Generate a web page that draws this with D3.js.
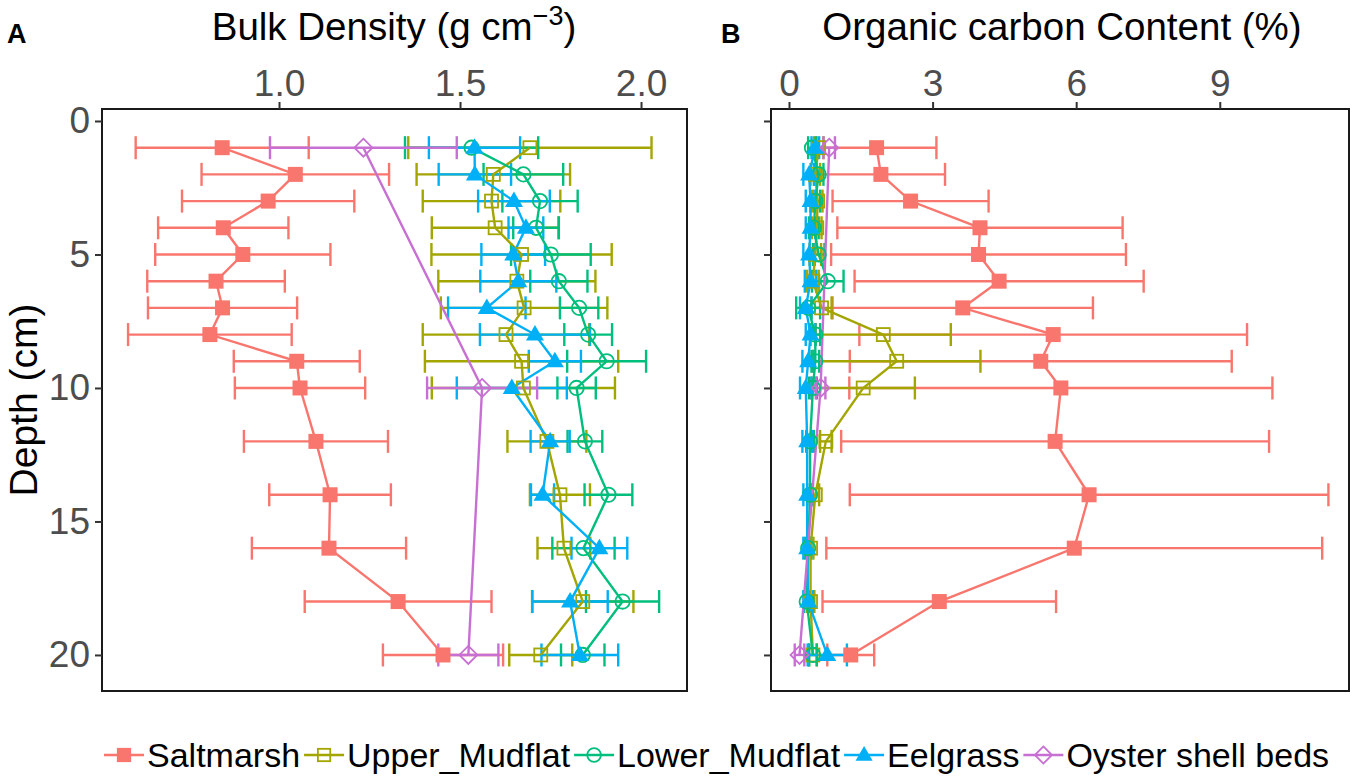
<!DOCTYPE html>
<html><head><meta charset="utf-8">
<script src="https://cdn.jsdelivr.net/npm/d3@7/dist/d3.min.js"></script>
<style>body{margin:0;background:#fff}svg{display:block;font-family:"Liberation Sans",Arial,sans-serif}</style>
</head><body><svg id="c" width="1356" height="783"></svg>
<script>
const depths = [1,2,3,4,5,6,7,8,9,10,12,14,16,18,20];
const oysterDepths = [1,10,20];
const seriesNames = ["Saltmarsh","Upper_Mudflat","Lower_Mudflat","Eelgrass","Oyster shell beds"];
const colors = ["#F8766D","#A3A500","#00BF7D","#00B0F6","#C86FD3"];
const shapes = ["squareFill","squareOpen","circleOpen","triangleFill","diamondOpen"];

// Bulk density (g cm-3): mean and sd per depth
const bdSaltmarsh   = [0.843,1.045,0.970,0.846,0.900,0.826,0.844,0.809,1.049,1.058,1.102,1.141,1.138,1.329,1.453];
const bdSaltmarshSd = [0.239,0.259,0.238,0.180,0.242,0.190,0.206,0.226,0.174,0.180,0.199,0.168,0.213,0.258,0.166];
const bdUpper   = [1.693,1.592,1.587,1.597,1.670,1.657,1.677,1.627,1.670,1.675,1.740,1.776,1.787,1.839,1.723];
const bdUpperSd = [0.336,0.212,0.190,0.175,0.249,0.217,0.230,0.230,0.267,0.253,0.109,0.083,0.073,0.140,0.087];
const bdLower   = [1.532,1.675,1.721,1.710,1.751,1.773,1.829,1.854,1.905,1.822,1.845,1.910,1.841,1.949,1.839];
const bdLowerSd = [0.184,0.110,0.104,0.063,0.110,0.079,0.053,0.066,0.109,0.053,0.048,0.066,0.086,0.101,0.060];
const bdEel   = [1.540,1.541,1.649,1.682,1.647,1.661,1.574,1.707,1.762,1.643,1.749,1.728,1.885,1.804,1.831];
const bdEelSd = [0.126,0.100,0.099,0.048,0.088,0.105,0.107,0.152,0.072,0.152,0.054,0.032,0.077,0.104,0.106];
const bdOyster   = [1.233,1.561,1.523];
const bdOysterSd = [0.258,0.152,0.083];

// Organic carbon content (%): mean and sd per depth
const ocSaltmarsh   = [1.83,1.92,2.54,3.99,3.96,4.39,3.63,5.52,5.26,5.68,5.56,6.27,5.96,3.14,1.29];
const ocSaltmarshSd = [1.25,1.34,1.63,2.98,3.08,3.02,2.72,4.05,3.99,4.42,4.47,5.00,5.18,2.44,0.49];
const ocUpper   = [0.62,0.55,0.60,0.58,0.55,0.50,0.68,1.97,2.25,1.55,0.77,0.55,0.45,0.45,0.50];
const ocUpperSd = [0.10,0.10,0.10,0.10,0.12,0.12,0.21,1.41,1.75,1.08,0.12,0.08,0.06,0.08,0.08];
const ocLower   = [0.48,0.62,0.55,0.52,0.62,0.81,0.40,0.55,0.55,0.50,0.44,0.44,0.40,0.37,0.50];
const ocLowerSd = [0.08,0.10,0.10,0.10,0.12,0.33,0.25,0.10,0.08,0.08,0.08,0.06,0.06,0.06,0.08];
const ocEel   = [0.55,0.42,0.45,0.45,0.42,0.45,0.35,0.45,0.40,0.35,0.38,0.38,0.38,0.40,0.80];
const ocEelSd = [0.08,0.12,0.10,0.10,0.12,0.12,0.12,0.10,0.12,0.12,0.10,0.08,0.08,0.10,0.41];
const ocOyster   = [0.84,0.66,0.22];
const ocOysterSd = [0.12,0.10,0.10];

const bdTicks = [1.0,1.5,2.0];
const ocTicks = [0,3,6,9];
const depthTicks = [0,5,10,15,20];

function mk(d, m, s){ return d.map((dep,i)=>({depth:dep, mean:m[i], sd:s[i]})); }
const bdSeries = [mk(depths,bdSaltmarsh,bdSaltmarshSd), mk(depths,bdUpper,bdUpperSd), mk(depths,bdLower,bdLowerSd), mk(depths,bdEel,bdEelSd), mk(oysterDepths,bdOyster,bdOysterSd)];
const ocSeries = [mk(depths,ocSaltmarsh,ocSaltmarshSd), mk(depths,ocUpper,ocUpperSd), mk(depths,ocLower,ocLowerSd), mk(depths,ocEel,ocEelSd), mk(oysterDepths,ocOyster,ocOysterSd)];

const svg = d3.select("#c");
const pTop = 109, pBottom = 691;
const y = d3.scaleLinear().domain([-0.449, 21.35]).range([pTop, pBottom]);
const FONT = "'Liberation Sans',Arial,sans-serif";

function marker(g, shape, color, cx, cy, s){
  const o = s || 1;
  if(shape==="squareFill") g.append("rect").attr("x",cx-7.5*o).attr("y",cy-7.5*o).attr("width",15*o).attr("height",15*o).attr("fill",color);
  else if(shape==="squareOpen") g.append("rect").attr("x",cx-6.5*o).attr("y",cy-6.5*o).attr("width",13*o).attr("height",13*o).attr("fill","none").attr("stroke",color).attr("stroke-width",1.8);
  else if(shape==="circleOpen") g.append("circle").attr("cx",cx).attr("cy",cy).attr("r",7.2*o).attr("fill","none").attr("stroke",color).attr("stroke-width",1.8);
  else if(shape==="triangleFill") g.append("path").attr("d",`M${cx},${cy-9.5*o}L${cx+9*o},${cy+6*o}L${cx-9*o},${cy+6*o}Z`).attr("fill",color);
  else if(shape==="diamondOpen") g.append("path").attr("d",`M${cx},${cy-9*o}L${cx+9*o},${cy}L${cx},${cy+9*o}L${cx-9*o},${cy}Z`).attr("fill","none").attr("stroke",color).attr("stroke-width",1.8);
}

function panel(left, right, domain, ticks, fmt, series, showY){
  const x = d3.scaleLinear().domain(domain).range([left, right]);
  const g = svg.append("g");
  series.forEach((ser,k)=>{
    const eg = g.append("g").attr("stroke",colors[k]).attr("stroke-width",2.4).attr("fill","none");
    ser.forEach(d=>{
      const yy = y(d.depth), x0 = x(d.mean-d.sd), x1 = x(d.mean+d.sd);
      eg.append("line").attr("x1",x0).attr("x2",x1).attr("y1",yy).attr("y2",yy);
      eg.append("line").attr("x1",x0).attr("x2",x0).attr("y1",yy-11.5).attr("y2",yy+11.5);
      eg.append("line").attr("x1",x1).attr("x2",x1).attr("y1",yy-11.5).attr("y2",yy+11.5);
    });
  });
  series.forEach((ser,k)=>{
    g.append("path").datum(ser).attr("fill","none").attr("stroke",colors[k]).attr("stroke-width",2.4)
      .attr("d", d3.line().x(d=>x(d.mean)).y(d=>y(d.depth)));
  });
  series.forEach((ser,k)=>{
    ser.forEach(d=>marker(g, shapes[k], colors[k], x(d.mean), y(d.depth)));
  });
  svg.append("rect").attr("x",left).attr("y",pTop).attr("width",right-left).attr("height",pBottom-pTop)
    .attr("fill","none").attr("stroke","#1a1a1a").attr("stroke-width",2);
  const ax = svg.append("g").attr("transform",`translate(0,${pTop})`)
    .call(d3.axisTop(x).tickValues(ticks).tickFormat(fmt).tickSize(7).tickPadding(6));
  ax.select(".domain").remove();
  ax.selectAll(".tick line").attr("stroke","#333").attr("stroke-width",2);
  ax.selectAll(".tick text").attr("fill","#4d4d4d").style("font-size","37px").style("font-family",FONT);
  const ay = svg.append("g").attr("transform",`translate(${left},0)`)
    .call(d3.axisLeft(y).tickValues(depthTicks).tickFormat(showY? d3.format("d") : "").tickSize(7).tickPadding(5));
  ay.select(".domain").remove();
  ay.selectAll(".tick line").attr("stroke","#333").attr("stroke-width",2);
  ay.selectAll(".tick text").attr("fill","#4d4d4d").style("font-size","37px").style("font-family",FONT);
  return x;
}

panel(102, 687, [0.511, 2.127], bdTicks, d3.format(".1f"), bdSeries, true);
panel(771, 1349, [-0.376, 11.70], ocTicks, d3.format("d"), ocSeries, false);

const t1 = svg.append("text").attr("x",394).attr("y",40).attr("text-anchor","middle").style("font-size","38.5px").attr("fill","#000");
t1.append("tspan").text("Bulk Density (g cm");
t1.append("tspan").attr("dy",-15).style("font-size","27px").text("\u22123");
t1.append("tspan").attr("dy",15).text(")");
svg.append("text").attr("x",1062).attr("y",40).attr("text-anchor","middle").style("font-size","38.5px").attr("fill","#000").text("Organic carbon Content (%)");
svg.append("text").attr("x",7).attr("y",43).style("font-size","27px").style("font-weight","bold").text("A");
svg.append("text").attr("x",721).attr("y",43).style("font-size","27px").style("font-weight","bold").text("B");
svg.append("text").attr("transform","translate(37,400) rotate(-90)").attr("text-anchor","middle").style("font-size","39px").text("Depth (cm)");

const lg = svg.append("g");
let lx = 104;
const ly = 755;
seriesNames.forEach((n,k)=>{
  lg.append("line").attr("x1",lx).attr("x2",lx+40).attr("y1",ly).attr("y2",ly).attr("stroke",colors[k]).attr("stroke-width",2.4);
  marker(lg, shapes[k], colors[k], lx+20, ly, 0.95);
  const t = lg.append("text").attr("x",lx+43).attr("y",ly+12).style("font-size","34px").attr("fill","#000").text(n);
  lx = lx + 43 + t.node().getComputedTextLength() + 4;
});
</script></body></html>
